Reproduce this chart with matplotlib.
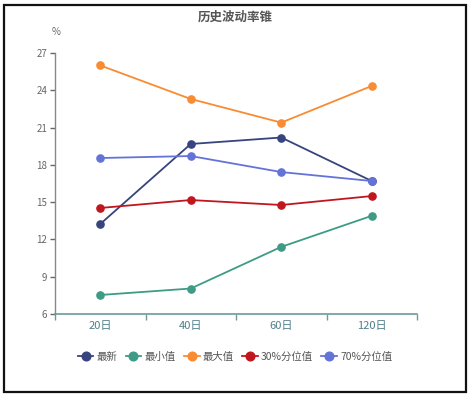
import matplotlib
matplotlib.use("Agg")
import matplotlib.pyplot as plt
from matplotlib.patches import Rectangle

plt.rcParams['font.family'] = ['Noto Sans CJK SC', 'DejaVu Sans']

categories = ['20日', '40日', '60日', '120日']
series_names = ['最新', '最小值', '最大值', '30%分位值', '70%分位值']
latest = [13.24, 19.68, 20.2, 16.7]
minimum = [7.53, 8.05, 11.4, 13.9]
maximum = [26.0, 23.3, 21.4, 24.35]
pct30 = [14.53, 15.17, 14.77, 15.49]
pct70 = [18.55, 18.71, 17.42, 16.7]
colors = ['#37447e', '#3d9b86', '#f98b32', '#c0171f', '#6473d8']
yticks = [6, 9, 12, 15, 18, 21, 24, 27]

W, H = 470, 397
fig = plt.figure(figsize=(W / 100, H / 100), dpi=100)
fig.patch.set_facecolor('white')

# outer frame
fig.patches.append(Rectangle((4 / W, 5 / H), 462 / W, 387 / H, transform=fig.transFigure,
                             fill=False, edgecolor='#111111', linewidth=1.6))

ax = fig.add_axes([55 / W, 83 / H, 362 / W, 261 / H])
x = list(range(len(categories)))
for vals, name, c in zip([latest, minimum, maximum, pct30, pct70], series_names, colors):
    ax.plot(x, vals, color=c, linewidth=1.3, marker='o', markersize=5.2, label=name)

ax.set_xlim(-0.5, len(categories) - 0.5)
ax.set_ylim(6, 27)
ax.set_yticks(yticks)
ax.set_yticklabels([str(t) for t in yticks])
ax.set_xticks(x)
ax.set_xticklabels(categories)
ax.set_xticks([i - 0.5 for i in range(len(categories) + 1)], minor=True)
ax.tick_params(axis='x', which='major', length=0, labelsize=8, colors='#4f7f8a', pad=5)
ax.tick_params(axis='x', which='minor', length=4, color='#6e9a9a', width=1)
ax.tick_params(axis='y', length=3.5, labelsize=7, colors='#666666', width=1, pad=2)
for s in ['top', 'right']:
    ax.spines[s].set_visible(False)
ax.spines['left'].set_color('#888888')
ax.spines['bottom'].set_color('#6e9a9a')
ax.spines['left'].set_linewidth(1)
ax.spines['bottom'].set_linewidth(1.2)
ax.set_facecolor('white')

fig.text(56 / W, 1 - 32 / H, '%', ha='center', va='center', fontsize=7, color='#666666')
fig.text(235 / W, 1 - 17 / H, '历史波动率锥', ha='center', va='center', fontsize=9,
         fontweight='bold', color='#555555')

leg = fig.legend(loc='center', bbox_to_anchor=(235 / W, 1 - 357 / H), ncol=5, frameon=False,
                 fontsize=7.5, handlelength=1.5, columnspacing=0.8, handletextpad=0.3,
                 markerscale=1.2)
for t in leg.get_texts():
    t.set_color('#555555')

fig.savefig('out.png', dpi=100)
